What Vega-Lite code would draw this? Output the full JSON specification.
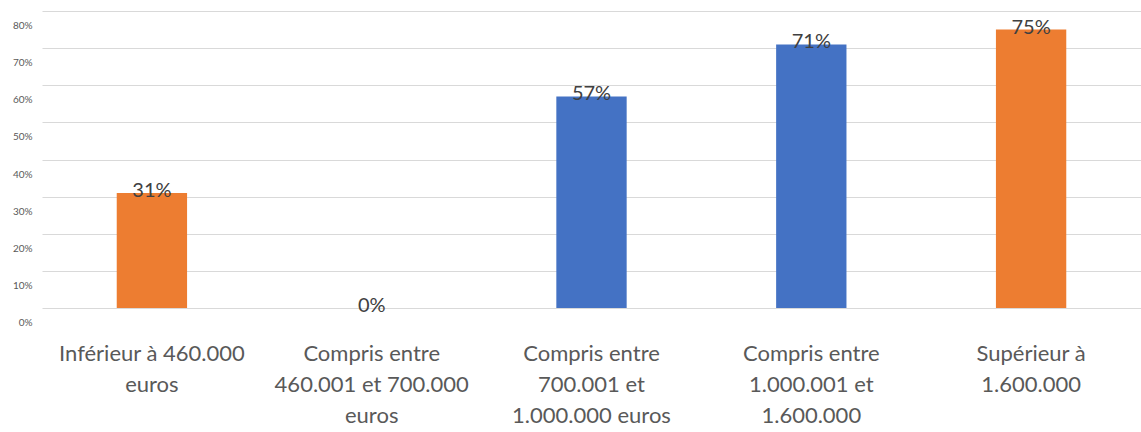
{
  "$schema": "https://vega.github.io/schema/vega-lite/v6.json",
  "autosize": "none",
  "width": 1099,
  "height": 297,
  "padding": {"left": 42, "top": 11, "right": 0, "bottom": 124},
  "background": "white",
  "config": {"view": {"stroke": null}, "font": "Lato"},
  "data": {
    "values": [
      {"tranche": "Inférieur à 460.000\neuros", "part": 0.31},
      {"tranche": "Compris entre\n460.001 et 700.000\neuros", "part": 0.0},
      {"tranche": "Compris entre\n700.001 et\n1.000.000 euros", "part": 0.57},
      {"tranche": "Compris entre\n1.000.001 et\n1.600.000", "part": 0.71},
      {"tranche": "Supérieur à\n1.600.000", "part": 0.75}
    ]
  },
  "encoding": {
    "x": {
      "field": "tranche",
      "type": "nominal",
      "sort": null,
      "scale": {"paddingInner": 0.68, "paddingOuter": 0.34},
      "axis": {
        "title": null,
        "domain": false,
        "ticks": false,
        "labelAngle": 0,
        "labelExpr": "split(datum.label, '\\n')",
        "labelFont": "Lato",
        "labelFontSize": 22,
        "labelColor": "#595959",
        "labelLineHeight": 31,
        "labelPadding": 35,
        "labelLimit": 400,
        "labelBaseline": "top"
      }
    },
    "y": {
      "field": "part",
      "type": "quantitative",
      "scale": {"domain": [0, 0.8], "nice": false},
      "axis": {
        "title": null,
        "format": ".0%",
        "values": [0, 0.1, 0.2, 0.3, 0.4, 0.5, 0.6, 0.7, 0.8],
        "domain": false,
        "ticks": false,
        "labelPadding": 10,
        "labelOffset": 14.6,
        "labelFont": "Lato",
        "labelFontSize": 10,
        "labelColor": "#595959",
        "gridColor": "#d9d9d9",
        "gridWidth": 1
      }
    }
  },
  "layer": [
    {
      "mark": {"type": "bar"},
      "encoding": {
        "color": {
          "field": "tranche",
          "type": "nominal",
          "legend": null,
          "scale": {
            "domain": [
              "Inférieur à 460.000\neuros",
              "Compris entre\n460.001 et 700.000\neuros",
              "Compris entre\n700.001 et\n1.000.000 euros",
              "Compris entre\n1.000.001 et\n1.600.000",
              "Supérieur à\n1.600.000"
            ],
            "range": ["#ED7D31", "#4472C4", "#4472C4", "#4472C4", "#ED7D31"]
          }
        }
      }
    },
    {
      "mark": {"type": "text", "baseline": "alphabetic", "dy": 4, "fontSize": 20, "color": "#404040", "font": "Lato"},
      "encoding": {
        "text": {"field": "part", "type": "quantitative", "format": ".0%"}
      }
    }
  ]
}
